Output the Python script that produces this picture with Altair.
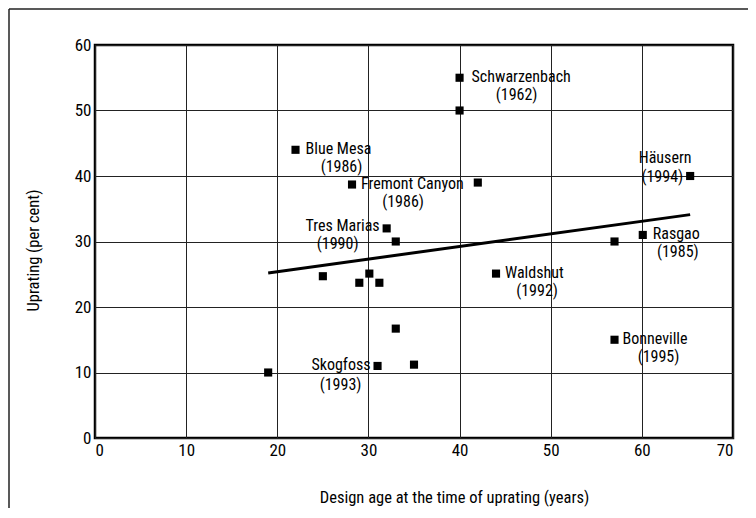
import altair as alt
import pandas as pd

# Data
ages = [19, 22, 28.2, 42, 40, 40, 65.3, 32, 33, 57, 60.1, 25, 29, 30.1, 31.2, 44, 33, 31, 35, 57]
uprating = [10, 44, 38.7, 39, 55, 50, 40, 32, 30, 30, 31, 24.7, 23.7, 25.1, 23.7, 25.1, 16.7, 11, 11.2, 15]

label_names = ["Schwarzenbach", "Blue Mesa", "Fremont Canyon", "Tres Marias", "Häusern",
               "Rasgao", "Waldshut", "Skogfoss", "Bonneville"]
label_years = ["(1962)", "(1986)", "(1986)", "(1990)", "(1994)", "(1985)", "(1992)", "(1993)", "(1995)"]
label_x = [40, 22, 28.2, 32, 65.3, 60.1, 44, 31, 57]
label_y = [55, 44, 38.7, 32, 40, 31, 25.1, 11, 15]

x_ticks = [0, 10, 20, 30, 40, 50, 60, 70]
y_ticks = [0, 10, 20, 30, 40, 50, 60]

# Label placement styles (name align, dx, dy, year align, dx, dy)
label_styles = [
    ("left", 12, -1, "center", 57, 17),
    ("left", 10, -1, "center", 46, 17),
    ("left", 9, -1, "center", 51, 17),
    ("right", -7, -2, "center", -49, 16),
    ("center", -25, -18, "right", -7, 1),
    ("left", 10, -1, "center", 35, 17),
    ("left", 9, -1, "center", 41, 17),
    ("right", -7, -1, "center", -37, 19),
    ("left", 8, -1, "center", 44, 17),
]

FONT = "Liberation Sans Narrow, Roboto Condensed, DejaVu Sans Condensed, sans-serif"

df = pd.DataFrame({"age": ages, "uprating": uprating})
lab = pd.DataFrame({"name": label_names, "year": label_years, "age": label_x, "uprating": label_y})

xs = alt.Scale(domain=[0, 70], nice=False)
ys = alt.Scale(domain=[0, 60], nice=False)

x_enc = alt.X("age:Q", scale=xs,
              axis=alt.Axis(values=x_ticks, title="Design age at the time of uprating (years)",
                            titleX=359, titleY=59, titleBaseline="middle"))
y_enc = alt.Y("uprating:Q", scale=ys,
              axis=alt.Axis(values=y_ticks, title="Uprating (per cent)",
                            titleX=-62, titleY=205, titleBaseline="middle", titleAngle=270))

points = alt.Chart(df).mark_square(size=66, color="black", opacity=1).encode(x=x_enc, y=y_enc)

trend = alt.Chart(df).transform_regression("age", "uprating").mark_line(
    color="black", strokeWidth=3).encode(x=alt.X("age:Q", scale=xs), y=alt.Y("uprating:Q", scale=ys))

layers = [trend, points]
for i, (na, ndx, ndy, ya, ydx, ydy) in enumerate(label_styles):
    row = lab.iloc[[i]]
    base = alt.Chart(row)
    layers.append(base.mark_text(align=na, baseline="middle", dx=ndx, dy=ndy, fontSize=16,
                                 font=FONT, color="black").encode(
        x=alt.X("age:Q", scale=xs), y=alt.Y("uprating:Q", scale=ys), text="name:N"))
    layers.append(base.mark_text(align=ya, baseline="middle", dx=ydx, dy=ydy, fontSize=16,
                                 font=FONT, color="black").encode(
        x=alt.X("age:Q", scale=xs), y=alt.Y("uprating:Q", scale=ys), text="year:N"))

one = pd.DataFrame({"a": [0]})
frame_top = alt.Chart(one).mark_rule(color="#222", strokeWidth=1.5).encode(
    x=alt.value(-86), x2=alt.value(653), y=alt.value(-36))
frame_left = alt.Chart(one).mark_rule(color="#222", strokeWidth=1.5).encode(
    x=alt.value(-86), y=alt.value(-36), y2=alt.value(470))
layers += [frame_top, frame_left]

chart = alt.layer(*layers).properties(
    width=638, height=393,
    autosize=alt.AutoSizeParams(type="none"),
    padding={"left": 87, "top": 37, "right": 15, "bottom": 70},
).configure_view(
    stroke="black", strokeWidth=2.5
).configure_axis(
    grid=True, gridColor="#222", gridWidth=1, gridOpacity=1,
    domain=False, ticks=False,
    labelFont=FONT, labelFontSize=17, labelColor="black", labelPadding=4,
    titleFont=FONT, titleFontSize=16.5, titleColor="black", titleFontWeight="normal",
).configure_axisY(labelPadding=4)

chart.save("out.html", embed_options={"renderer": "svg", "actions": False})
